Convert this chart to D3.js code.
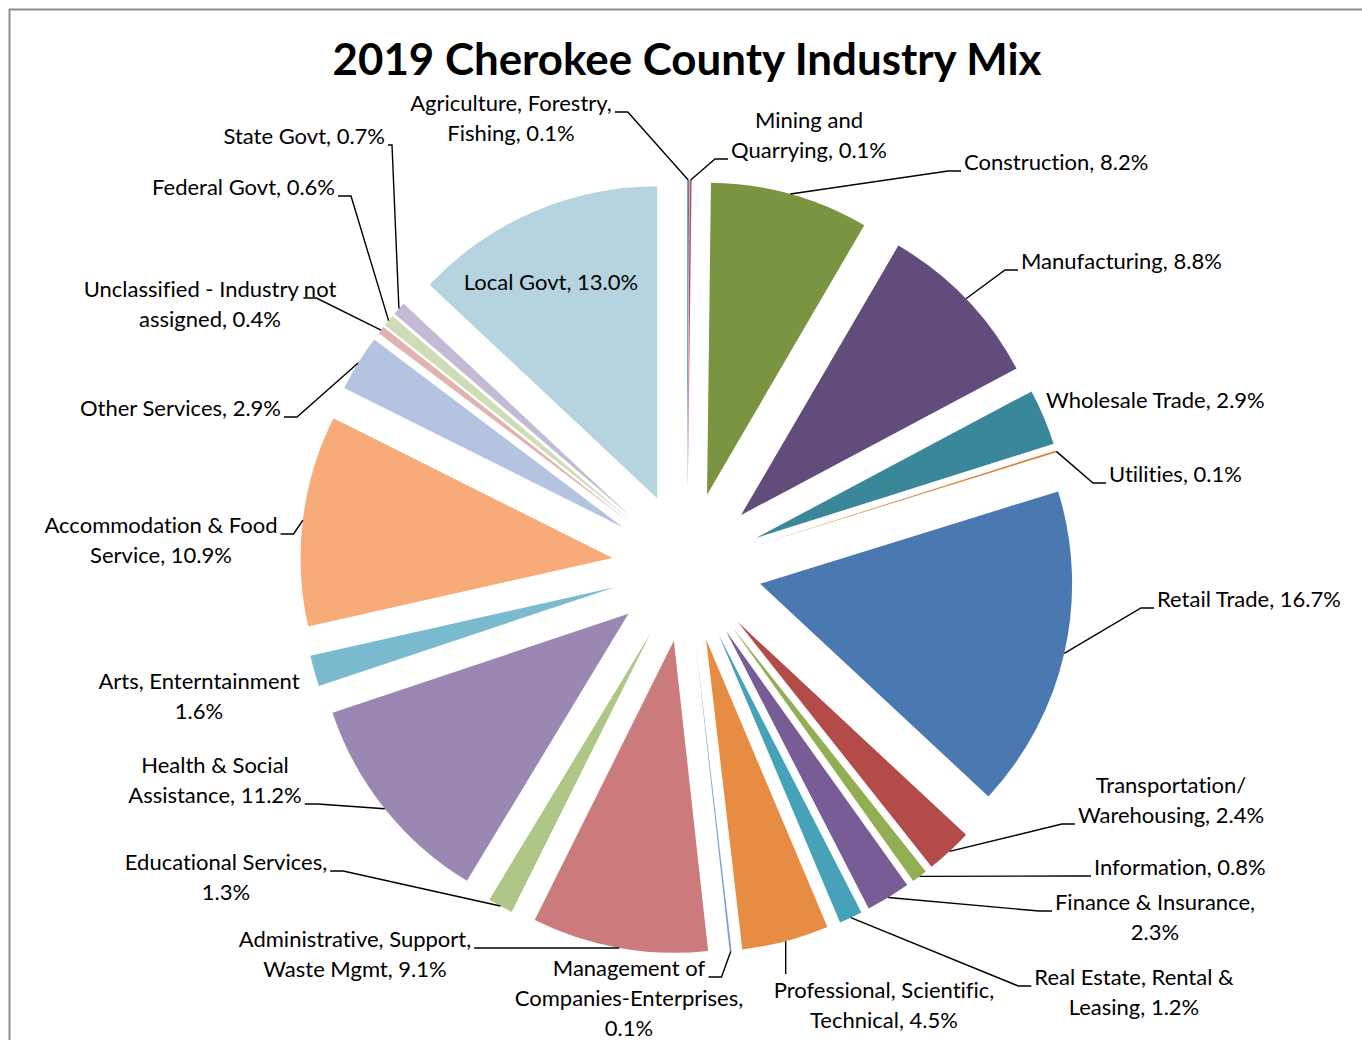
<!DOCTYPE html>
<meta charset="utf-8">
<body style="margin:0;background:#fff">
<script src="https://d3js.org/d3.v7.min.js"></script>
<script>

// industry shares, clockwise from 12 o'clock
var industries = [
  "Agriculture, Forestry, Fishing", "Mining and Quarrying", "Construction", "Manufacturing",
  "Wholesale Trade", "Utilities", "Retail Trade", "Transportation/Warehousing", "Information",
  "Finance & Insurance", "Real Estate, Rental & Leasing", "Professional, Scientific, Technical",
  "Management of Companies-Enterprises", "Administrative, Support, Waste Mgmt", "Educational Services",
  "Health & Social Assistance", "Arts, Enterntainment", "Accommodation & Food Service",
  "Other Services", "Unclassified - Industry not assigned", "Federal Govt", "State Govt", "Local Govt"
];
var shares = [0.1, 0.1, 8.2, 8.8, 2.9, 0.1, 16.7, 2.4, 0.8, 2.3, 1.2, 4.5, 0.1, 9.1, 1.3, 11.2, 1.6, 10.9, 2.9, 0.4, 0.6, 0.7, 13.0];

// label text as it is broken in the chart, {v} = value
var labelLines = [
  ["Agriculture, Forestry,", "Fishing, {v}"],
  ["Mining and", "Quarrying, {v}"],
  ["Construction, {v}"],
  ["Manufacturing, {v}"],
  ["Wholesale Trade, {v}"],
  ["Utilities, {v}"],
  ["Retail Trade, {v}"],
  ["Transportation/", "Warehousing, {v}"],
  ["Information, {v}"],
  ["Finance & Insurance,", "{v}"],
  ["Real Estate, Rental &", "Leasing, {v}"],
  ["Professional, Scientific,", "Technical, {v}"],
  ["Management of", "Companies-Enterprises,", "{v}"],
  ["Administrative, Support,", "Waste Mgmt, {v}"],
  ["Educational Services,", "{v}"],
  ["Health & Social", "Assistance, {v}"],
  ["Arts, Enterntainment", "{v}"],
  ["Accommodation & Food", "Service, {v}"],
  ["Other Services, {v}"],
  ["Unclassified - Industry not", "assigned, {v}"],
  ["Federal Govt, {v}"],
  ["State Govt, {v}"],
  ["Local Govt, {v}"]
];

var colors = [
  "#4f81bd", "#c0504d", "#7a9442", "#624c7c", "#3a8799", "#d9823e", "#4a78b0",
  "#b34b48", "#92ae52", "#775c96", "#46a2b9", "#e68d43", "#7fa0d8", "#cb7b7b",
  "#aec787", "#9a88b3", "#7abacf", "#f7ab78", "#b4c3df", "#e0b3b2", "#cfddb7",
  "#c5bad4", "#b6d4df"
];

// label placement: x, baseline y, anchor, leader side, line the leader attaches to
var labelLayout = [
  {x: 511, y: 111, a: "middle", side: "right", line: 0},
  {x: 809, y: 128, a: "middle", side: "left", line: 1},
  {x: 964, y: 170, a: "start", side: "left", line: 0},
  {x: 1021, y: 269, a: "start", side: "left", line: 0},
  {x: 1046, y: 408, a: "start", side: "none", line: 0},
  {x: 1109, y: 482, a: "start", side: "left", line: 0},
  {x: 1157, y: 607, a: "start", side: "left", line: 0},
  {x: 1171, y: 793, a: "middle", side: "left", line: 1},
  {x: 1094, y: 875, a: "start", side: "left", line: 0},
  {x: 1155, y: 910, a: "middle", side: "left", line: 0},
  {x: 1134, y: 985, a: "middle", side: "left", line: 0},
  {x: 884, y: 998, a: "middle", side: "top", line: 0},
  {x: 629, y: 976, a: "middle", side: "right", line: 0},
  {x: 355, y: 947, a: "middle", side: "right", line: 0},
  {x: 226, y: 870, a: "middle", side: "right", line: 0},
  {x: 215, y: 773, a: "middle", side: "right", line: 1},
  {x: 199, y: 689, a: "middle", side: "none", line: 0},
  {x: 161, y: 533, a: "middle", side: "right", line: 0},
  {x: 281, y: 416, a: "end", side: "right", line: 0},
  {x: 210, y: 297, a: "middle", side: "right", line: 0, shift: -36},
  {x: 335, y: 195, a: "end", side: "right", line: 0},
  {x: 385, y: 144, a: "end", side: "right", line: 0, hlen: 4},
  {x: 551, y: 290, a: "middle", side: "none", line: 0}
];

var width = 1362,
    height = 1040,
    cx = 687,
    cy = 567,
    radius = 312,
    explode = 75,
    lineH = 30;

var fmt = function(v) { return v.toFixed(1) + "%"; };

var svg = d3.select("body").append("svg")
    .attr("width", width)
    .attr("height", height)
    .style("display", "block")
    .style("font-family", "Lato, 'Open Sans', sans-serif")
    .style("font-variant-ligatures", "none");

svg.append("rect")
    .attr("x", 9.5).attr("y", 9.5)
    .attr("width", 1400).attr("height", 1100)
    .attr("fill", "#fff")
    .attr("stroke", "#8e8e8e")
    .attr("stroke-width", 2);

var title = svg.append("text")
    .attr("x", cx)
    .attr("y", 75)
    .attr("text-anchor", "middle")
    .style("font-size", "40px")
    .style("font-weight", "bold")
    .text("2019 Cherokee County Industry Mix");

// fit title to the width it has in the original
var tw = title.node().getComputedTextLength();
title.style("font-size", (40 * 709 / tw) + "px");

var pie = d3.pie().sort(null).value(function(d) { return d; });
var arcs = pie(shares);

var arc = d3.arc().innerRadius(0).outerRadius(radius);
var rim = d3.arc().innerRadius(radius).outerRadius(radius);

function offset(d) {
  var m = (d.startAngle + d.endAngle) / 2;
  return [explode * Math.sin(m), -explode * Math.cos(m)];
}

var g = svg.append("g").attr("transform", "translate(" + cx + "," + cy + ")");

g.selectAll("path.slice")
  .data(arcs)
  .enter().append("path")
    .attr("class", "slice")
    .attr("d", arc)
    .attr("fill", function(d, i) { return colors[i]; })
    .attr("transform", function(d) {
      var o = offset(d);
      return "translate(" + o[0] + "," + o[1] + ")";
    });

// labels
var labels = svg.append("g")
    .style("font-size", "22px")
    .attr("fill", "#000");

var leaders = svg.append("g")
    .attr("fill", "none")
    .attr("stroke", "#000")
    .attr("stroke-width", 1.4);

arcs.forEach(function(d, i) {
  var L = labelLayout[i];
  var txt = labels.append("text")
      .attr("text-anchor", L.a);
  var tspans = labelLines[i].map(function(s, k) {
    return txt.append("tspan")
        .attr("x", L.x)
        .attr("y", L.y + k * lineH)
        .text(s.replace("{v}", fmt(shares[i])));
  });
  if (L.side === "none") return;

  var o = offset(d);
  var c = rim.centroid(d);
  var target = [cx + o[0] + c[0], cy + o[1] + c[1]];
  var bb = tspans[L.line].node().getBBox();
  var by = L.y + L.line * lineH + 1;
  var hl = L.hlen || 13;
  var pts;
  if (L.side === "left") {
    pts = [[bb.x - 3, by], [bb.x - 3 - hl, by], target];
  } else if (L.side === "right") {
    var sx = bb.x + bb.width + 3 + (L.shift || 0);
    pts = [[sx, by], [sx + hl, by], target];
  } else {
    pts = [[target[0], bb.y - 2], target];
  }
  leaders.append("path").attr("d", d3.line()(pts));
});

</script>
</body>
